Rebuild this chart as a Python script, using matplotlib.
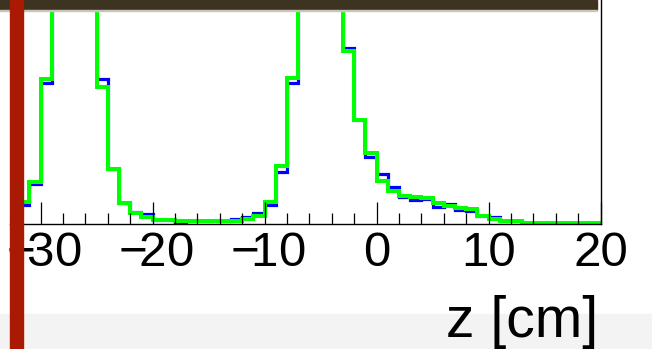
import numpy as np
import matplotlib
matplotlib.use("Agg")
import matplotlib.pyplot as plt
from matplotlib.patches import Rectangle
from matplotlib.transforms import ScaledTranslation

# bin edges in z [cm], 1 cm bins
edges = np.arange(-33, 21, 1)

# reference histogram (blue) and overlay (green), peaks run off the top
blue = [10, 19, 39.7, 141.3, 320, 530, 490, 300, 145, 55,
        21, 12.3, 9.7, 4.5, 4, 1.7, 3, 3, 3, 3,
        5, 6.7, 11.3, 19, 52.3, 140.7, 320, 570, 580, 350,
        175.7, 104, 67.3, 50.3, 36.7, 27.3, 24, 24.7, 17.3, 20,
        14, 13.3, 8.5, 7, 3.5, 3.5, 1.3, 1.3, 1.3, 1.3,
        1.3, 1.3, 1.3]
green = [12, 22, 42, 145, 330, 520, 500, 310, 137, 55,
         21, 11.5, 7.3, 4.3, 4.3, 3.3, 3, 3, 3, 3,
         3.3, 5, 8.3, 22.3, 58, 145.7, 330, 560, 590, 360,
         173.3, 104, 70.7, 43.5, 33, 28.3, 27.3, 25.7, 20.7, 18,
         16.3, 15, 8.5, 5, 3.5, 3.5, 1.3, 1.3, 1.3, 1.3,
         1.3, 1.3, 1.3]

major_ticks = [-30, -20, -10, 0, 10, 20]

plt.rcParams['font.family'] = ['Liberation Sans', 'DejaVu Sans']

W, H = 652, 349
fig = plt.figure(figsize=(W / 100, H / 100), dpi=100)

# grey strip at the bottom of the canvas
fig.patches.append(Rectangle((0, 0), 1, 35 / H, transform=fig.transFigure,
                             color='#f3f3f3', zorder=0))

ax = fig.add_axes([10 / W, 125 / H, 590.5 / W, 224 / H])
ax.patch.set_alpha(0)
ax.stairs(blue, edges, color='#0000ff', lw=2.3, baseline=0)
ax.stairs(green, edges, color='#00ff00', lw=2.9, baseline=0)

ax.set_xlim(-32.74, 20)
ax.set_ylim(0, 224)
ax.set_xticks(major_ticks)
# ROOT-style labels: the minus sits tight against the digits
labels = [r'$\mathregular{-\!%d}$' % abs(t) if t < 0 else str(t) for t in major_ticks]
ax.set_xticklabels(labels)
ax.set_xticks(np.arange(-32, 21, 2), minor=True)
ax.set_yticks([])
ax.tick_params(axis='x', which='major', direction='in', length=15.8,
               width=0.9, labelsize=35.5, pad=5)
ax.tick_params(axis='x', which='minor', direction='in', length=8, width=0.9)
shift = ScaledTranslation(3 / 100, 0, fig.dpi_scale_trans)
for t, lab in zip(major_ticks, ax.get_xticklabels()):
    if t < 0:
        lab.set_transform(lab.get_transform() + shift)
for s in ['top', 'left']:
    ax.spines[s].set_visible(False)
ax.spines['bottom'].set_linewidth(1.0)
ax.spines['right'].set_linewidth(1.0)

fig.text(598 / W, 12 / H, 'z [cm]', ha='right', va='baseline', fontsize=41)

# dark bar along the top and red bar on the left
fig.patches.append(Rectangle((0, 339 / H), 597 / W, 10 / H, transform=fig.transFigure,
                             color='#3c3320', zorder=10))
fig.patches.append(Rectangle((0, 338 / H), 597 / W, 1 / H, transform=fig.transFigure,
                             color='#c9c5b9', zorder=10))
fig.patches.append(Rectangle((10 / W, 0), 13.3 / W, 1, transform=fig.transFigure,
                             color='#aa1a02', zorder=10))

fig.savefig('out.png', dpi=100)
